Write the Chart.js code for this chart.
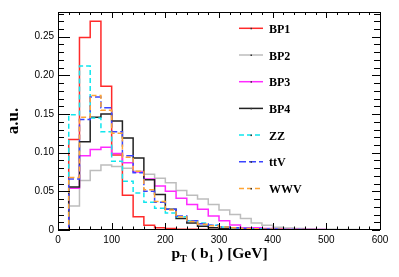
<!DOCTYPE html>
<html><head><meta charset="utf-8">
<script src="https://cdn.jsdelivr.net/npm/chart.js@4/dist/chart.umd.min.js"></script>
<style>html,body{margin:0;padding:0;background:#fff;overflow:hidden}#wrap{width:399px;height:277px;position:relative}</style>
</head><body><div id="wrap"><canvas id="c" width="399" height="277"></canvas></div>
<script>
// ---- data ----
const binLow = [0,20,40,60,80,100,120,140,160,180,200,220,240,260,280,300,320,340,360,380,400,420,440,460,480,500,520,540,560,580];
const binWidth = 20;
const xTicks = [0,100,200,300,400,500,600];
const yTicks = [0,0.05,0.1,0.15,0.2,0.25];
const seriesNames = ['BP1','BP2','BP3','BP4','ZZ','ttV','WWV'];
const bp1 = [0,0.117,0.249,0.270,0.186,0.097,0.045,0.017,0.006,0.003,0.002,0.001,0.001,0.0005,0.0005,0.0003,0.0002,0.0002,0.0001,0.0001,0,0,0,0,0,0,0,0,0,0];
const bp2 = [0,0.031,0.064,0.077,0.084,0.082,0.080,0.076,0.072,0.067,0.061,0.051,0.045,0.040,0.033,0.026,0.020,0.015,0.009,0.006,0.0035,0.0025,0.002,0.0015,0.001,0.001,0.0005,0.0005,0.0003,0.0002];
const bp3 = [0,0.054,0.096,0.104,0.107,0.099,0.087,0.075,0.066,0.057,0.050,0.041,0.033,0.027,0.018,0.012,0.0065,0.003,0.003,0.002,0.0015,0.001,0.001,0.0005,0.0005,0.0003,0.0002,0.0002,0.0001,0.0001];
const bp4 = [0,0.0555,0.114,0.146,0.150,0.141,0.119,0.093,0.065,0.046,0.027,0.015,0.009,0.005,0.003,0.002,0.001,0.001,0.0005,0.0005,0.0003,0.0002,0.0001,0.0001,0,0,0,0,0,0];
const zz  = [0,0.149,0.212,0.145,0.127,0.089,0.063,0.048,0.036,0.028,0.022,0.017,0.012,0.009,0.006,0.004,0.003,0.002,0.0015,0.001,0.001,0.0005,0.0005,0.0003,0.0002,0.0002,0.0001,0.0001,0,0];
const ttv = [0,0.066,0.143,0.172,0.158,0.127,0.096,0.074,0.050,0.036,0.027,0.018,0.012,0.008,0.006,0.004,0.003,0.002,0.0015,0.001,0.001,0.0005,0.0005,0.0003,0.0002,0.0001,0.0001,0,0,0];
const wwv = [0,0.068,0.146,0.174,0.155,0.125,0.094,0.076,0.052,0.037,0.026,0.017,0.011,0.0075,0.0055,0.004,0.003,0.002,0.0015,0.001,0.001,0.0005,0.0005,0.0003,0.0002,0.0001,0.0001,0,0,0];
const yMax = 0.282;

// ---- styles ----
const styles = [
  {c:'#ff2a2a', d:[]},
  {c:'#bdbdbd', d:[]},
  {c:'#ff2aff', d:[]},
  {c:'#222222', d:[]},
  {c:'#10e6ee', d:[5,3]},
  {c:'#3a44ff', d:[7,3]},
  {c:'#ffa535', d:[5,3]}
];
const values = [bp1,bp2,bp3,bp4,zz,ttv,wwv];
// histogram outline: each bin contributes its low and high edge at the bin value
function outline(vals){
  const out = [];
  vals.forEach((v, k) => { out.push({x: binLow[k], y: v}); out.push({x: binLow[k] + binWidth, y: v}); });
  return out;
}

const datasets = values.map((v,i)=>({
  label: seriesNames[i], data: outline(v), borderColor: styles[i].c, borderDash: styles[i].d,
  borderWidth: 1.5, pointRadius: 0, fill: false, tension: 0, order: 10 - i
}));

const decor = {
  id: 'decor',
  afterDatasetsDraw(chart){
    const {ctx, chartArea:a, scales:{x,y}} = chart;
    ctx.save();
    ctx.strokeStyle = '#000'; ctx.lineWidth = 1;
    ctx.beginPath();
    for (let v = 0; v <= 600; v += 20) {
      const px = Math.round(x.getPixelForValue(v)) + 0.5;
      const major = v % 100 === 0;
      ctx.moveTo(px, a.bottom); ctx.lineTo(px, a.bottom - (major ? 7 : 3.5));
      ctx.moveTo(px, a.top); ctx.lineTo(px, a.top + (major ? 6 : 3));
    }
    for (let i = 0; i <= 28; i++) {
      const v = i / 100;
      if (v > yMax) break;
      const py = Math.round(y.getPixelForValue(v)) + 0.5;
      const major = i % 5 === 0;
      ctx.moveTo(a.left, py); ctx.lineTo(a.left + (major ? 12 : 6), py);
      ctx.moveTo(a.right, py); ctx.lineTo(a.right - (major ? 8 : 6), py);
    }
    ctx.stroke();
    ctx.strokeRect(Math.round(a.left) + 0.5, Math.round(a.top) + 0.5, Math.round(a.right - a.left), Math.round(a.bottom - a.top) - 1);

    // legend
    seriesNames.forEach((n, i) => {
      const ly = 28.3 + i * 26.7;
      ctx.beginPath();
      ctx.strokeStyle = styles[i].c; ctx.lineWidth = 1.5; ctx.setLineDash(styles[i].d);
      ctx.moveTo(239, ly); ctx.lineTo(263, ly); ctx.stroke();
      ctx.setLineDash([]);
      ctx.fillStyle = '#333'; ctx.fillRect(250.5, ly - 0.5, 1.5, 1.5);
      ctx.fillStyle = '#000';
      ctx.font = 'bold 12px "Liberation Serif"';
      ctx.textAlign = 'left'; ctx.textBaseline = 'alphabetic';
      ctx.fillText(n, 269, ly + 4.5);
    });

    // y title
    ctx.save();
    ctx.translate(18, 121); ctx.rotate(-Math.PI / 2);
    ctx.font = 'bold 17px "Liberation Serif"'; ctx.textAlign = 'center'; ctx.textBaseline = 'alphabetic';
    ctx.fillText('a.u.', 0, 0);
    ctx.restore();

    // x title with subscripts
    const parts = [['p',0],['T',1],[' ( b',0],['1',1],[' ) [GeV]',0]];
    const mainF = 'bold 15.5px "Liberation Serif"', subF = 'bold 10px "Liberation Serif"';
    let total = 0;
    parts.forEach(([t, s]) => { ctx.font = s ? subF : mainF; total += ctx.measureText(t).width + (s ? 0.5 : 0); });
    let tx = 219.5 - total / 2; const base = 258;
    ctx.textAlign = 'left';
    parts.forEach(([t, s]) => {
      ctx.font = s ? subF : mainF;
      ctx.fillText(t, tx, base + (s ? 4 : 0));
      tx += ctx.measureText(t).width + (s ? 0.5 : 0);
    });
    ctx.restore();
  }
};

new Chart(document.getElementById('c'), {
  type: 'line',
  data: { datasets },
  options: {
    responsive: false, animation: false, devicePixelRatio: 1,
    layout: { padding: { top: 12, right: 19, left: 0, bottom: 0 } },
    plugins: { legend: { display: false }, tooltip: { enabled: false } },
    scales: {
      x: {
        type: 'linear', min: 0, max: xTicks[xTicks.length-1],
        grid: { display: false, drawTicks: false }, border: { display: false },
        afterBuildTicks: s => { s.ticks = xTicks.map(v => ({value: v})); },
        afterFit: s => { s.height = 47; },
        ticks: { padding: 4, color: '#000', font: { family: '"Liberation Sans"', size: 10 }, maxRotation: 0, autoSkip: false }
      },
      y: {
        type: 'linear', min: 0, max: yMax,
        grid: { display: false, drawTicks: false }, border: { display: false },
        afterBuildTicks: s => { s.ticks = yTicks.map(v => ({value: v})); },
        afterFit: s => { s.width = 58; },
        ticks: { padding: 4, color: '#000', font: { family: '"Liberation Sans"', size: 10 }, autoSkip: false }
      }
    }
  },
  plugins: [decor]
});
</script></body></html>
